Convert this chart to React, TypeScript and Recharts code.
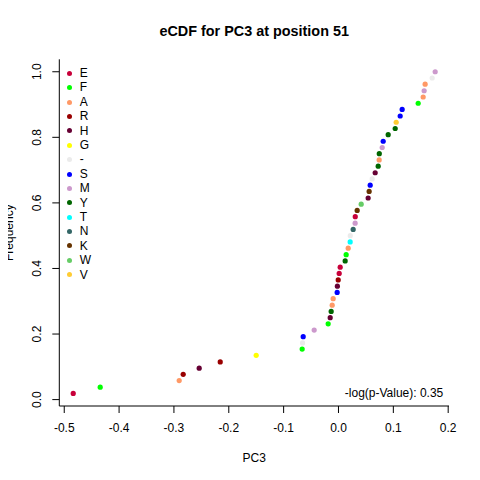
import {
  ScatterChart,
  Scatter,
  XAxis,
  YAxis,
  Legend
} from "recharts";

// residue classes, legend order
const residues = ["E", "F", "A", "R", "H", "G", "-", "S", "M", "Y", "T", "N", "K", "W", "V"];
const residueColors = [
  "#C8003A", "#00FF00", "#FF9966", "#990000", "#660033", "#FFFF00", "#EBEBEB",
  "#0000FF", "#CC99CC", "#006600", "#00FFFF", "#336666", "#663300", "#66CC66", "#FFCC33"
];

// sorted PC3 values and the residue of each point
const pc3Values = [
  -0.4836, -0.4344, -0.2904, -0.2831, -0.2539, -0.2156, -0.15, -0.0662, -0.0655, -0.0643,
  -0.0443, -0.0188, -0.0151, -0.0133, -0.0115, -0.0097, -0.0024, -0.002, -0.0005, 0.0013,
  0.0031, 0.0122, 0.014, 0.0177, 0.0213, 0.0215, 0.0268, 0.0304, 0.0306, 0.0341,
  0.0414, 0.0541, 0.0559, 0.0578, 0.0614, 0.0669, 0.0724, 0.0742, 0.0744, 0.0797,
  0.0815, 0.0906, 0.1034, 0.1052, 0.1125, 0.1161, 0.1453, 0.1544, 0.1562, 0.158,
  0.1708, 0.1763
];
const pointResidues = [
  "E", "F", "A", "R", "H", "R", "G", "F", "-", "S",
  "M", "F", "H", "Y", "A", "A", "S", "H", "R", "E",
  "E", "Y", "F", "A", "T", "-", "N", "M", "E", "K",
  "W", "H", "K", "S", "-", "H", "Y", "A", "Y", "M",
  "S", "Y", "Y", "V", "S", "S", "F", "A", "M", "A",
  "-", "M"
];
const frequencies = [
  0.019, 0.038, 0.058, 0.077, 0.096, 0.115, 0.135, 0.154, 0.173, 0.192,
  0.212, 0.231, 0.25, 0.269, 0.288, 0.308, 0.327, 0.346, 0.365, 0.385,
  0.404, 0.423, 0.442, 0.462, 0.481, 0.5, 0.519, 0.538, 0.558, 0.577,
  0.596, 0.615, 0.635, 0.654, 0.673, 0.692, 0.712, 0.731, 0.75, 0.769,
  0.788, 0.808, 0.827, 0.846, 0.865, 0.885, 0.904, 0.923, 0.942, 0.962,
  0.981, 1.0
];

const xTicks = [-0.5, -0.4, -0.3, -0.2, -0.1, 0, 0.1, 0.2];
const yTicks = [0, 0.2, 0.4, 0.6, 0.8, 1.0];
const xDomain = [-0.509, 0.2015];
const yDomain = [-0.0195, 1.038];

const points = pc3Values.map((x, i) => ({ x, y: frequencies[i], residue: pointResidues[i] }));

const font = "'Liberation Sans', Arial, sans-serif";

const YTick = ({ x, y, payload }: any) => (
  <text
    x={x}
    y={y}
    transform={`rotate(-90 ${x} ${y})`}
    textAnchor="middle"
    fontSize={12}
    fontFamily={font}
    fill="#000"
  >
    {Number(payload.value).toFixed(1)}
  </text>
);

const Dot = ({ cx, cy, fill }: any) => <circle cx={cx} cy={cy} r={2.6} fill={fill} />;

const LegendContent = ({ payload }: any) => {
  const items = [...(payload ?? [])].sort(
    (a: any, b: any) => residues.indexOf(a.value) - residues.indexOf(b.value)
  );
  return (
    <div style={{ fontFamily: font }}>
      {items.map((item: any) => (
        <div
          key={item.value}
          style={{ display: "flex", alignItems: "center", height: 14.4 }}
        >
          <span
            style={{
              width: 5,
              height: 5,
              borderRadius: "50%",
              background: residueColors[residues.indexOf(item.value)]
            }}
          />
          <span style={{ marginLeft: 8, fontSize: 12, lineHeight: "14.4px", color: "#000" }}>
            {item.value}
          </span>
        </div>
      ))}
    </div>
  );
};

const App = () => {
  return (
    <div style={{ fontFamily: font, margin: -8 }}>
      <ScatterChart
        width={480}
        height={480}
        margin={{ top: 59.3, right: 31, bottom: 0, left: 0 }}
      >
        <XAxis
          type="number"
          dataKey="x"
          domain={xDomain}
          ticks={xTicks}
          allowDataOverflow
          height={74}
          tickSize={7}
          tickMargin={10}
          tickFormatter={(v: number) => v.toFixed(1)}
          tick={{ fill: "#000", fontSize: 12, fontFamily: font }}
          axisLine={{ stroke: "#000" }}
          tickLine={{ stroke: "#000" }}
        />
        <XAxis
          xAxisId="top"
          orientation="top"
          type="number"
          domain={xDomain}
          allowDataOverflow
          height={0}
          tick={false}
          tickLine={false}
          axisLine={{ stroke: "#000" }}
        />
        <YAxis
          type="number"
          dataKey="y"
          domain={yDomain}
          ticks={yTicks}
          allowDataOverflow
          width={59.3}
          tickSize={7}
          tickMargin={10.8}
          tick={<YTick />}
          axisLine={{ stroke: "#000" }}
          tickLine={{ stroke: "#000" }}
        />
        <YAxis
          yAxisId="right"
          orientation="right"
          type="number"
          domain={yDomain}
          allowDataOverflow
          width={0}
          tick={false}
          tickLine={false}
          axisLine={{ stroke: "#000" }}
        />
        {residues.map((r, i) => (
          <Scatter
            key={r}
            name={r}
            data={points.filter((p) => p.residue === r)}
            fill={residueColors[i]}
            shape={<Dot />}
            isAnimationActive={false}
          />
        ))}
        <Legend
          layout="vertical"
          align="center"
          verticalAlign="middle"
          content={LegendContent}
          wrapperStyle={{ left: 66.8, top: 66.1, width: 40 }}
        />
        <text
          x={254.2}
          y={35.7}
          textAnchor="middle"
          fontSize={14.4}
          fontWeight="bold"
          fontFamily={font}
          fill="#000"
        >
          eCDF for PC3 at position 51
        </text>
        <text
          x={254.2}
          y={462}
          textAnchor="middle"
          fontSize={12}
          fontFamily={font}
          fill="#000"
        >
          PC3
        </text>
        <text
          transform="translate(12.7 232.7) rotate(-90)"
          textAnchor="middle"
          fontSize={12}
          fontFamily={font}
          fill="#000"
        >
          Frequency
        </text>
        <text
          x={443.3}
          y={397}
          textAnchor="end"
          fontSize={12}
          fontFamily={font}
          fill="#000"
        >
          -log(p-Value): 0.35
        </text>
      </ScatterChart>
    </div>
  );
};

export default App;
